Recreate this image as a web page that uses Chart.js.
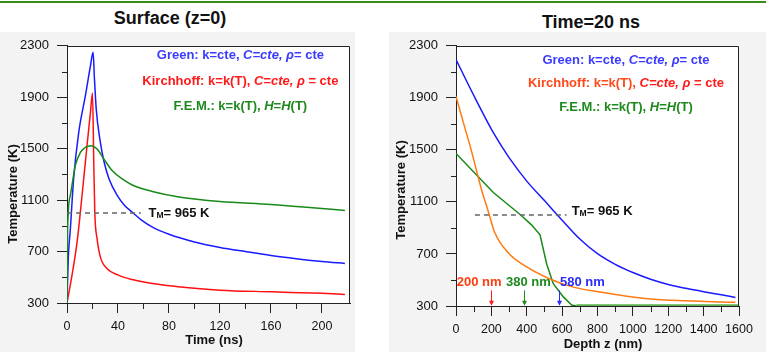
<!DOCTYPE html>
<html><head><meta charset="utf-8">
<script src="https://cdn.jsdelivr.net/npm/chart.js@4/dist/chart.umd.min.js"></script>
<style>
html,body{margin:0;padding:0;background:#fff;width:766px;height:352px;overflow:hidden;font-family:"Liberation Sans",Arial,sans-serif;}
#topline{position:absolute;left:0;top:1px;width:766px;height:2px;background:#3c8c1c;}
.panel{position:absolute;background:#f3f3f3;}
.title{position:absolute;font-weight:bold;font-size:18px;line-height:18px;color:#111;white-space:nowrap;transform:translateX(-50%);}
canvas{position:absolute;}
</style></head><body>
<div id="topline"></div>
<div class="panel" style="left:0;top:32px;width:355px;height:320px"></div>
<div class="panel" style="left:389px;top:32px;width:377px;height:320px"></div>
<div class="title" style="left:170px;top:9px">Surface (z=0)</div>
<div class="title" style="left:591px;top:13px">Time=20 ns</div>
<canvas id="c1" width="360" height="322" style="left:0;top:30px"></canvas>
<canvas id="c2" width="383" height="322" style="left:383px;top:30px"></canvas>
<script>
// ---------- DATA ----------
// Left chart: surface temperature vs time (ns)
const leftGreenTime = [0, 1, 2.6, 5.2, 9.2, 14.4, 18.4, 20.5, 21.5, 23, 26, 29, 33, 39.4, 45, 51.2, 59, 67, 80, 100, 120, 140, 160, 180, 200, 218];
const leftGreenTemp = [300, 650, 870, 1265, 1627, 1911, 2144, 2250, 2050, 1800, 1560, 1400, 1265, 1136, 1060, 1006, 940, 890, 835, 775, 732, 700, 670, 645, 623, 608];
const leftKirchTime = [0, 3.9, 7.9, 11.8, 15.7, 18.4, 20, 21, 21.8, 23.6, 26.2, 31.5, 40.7, 51.2, 67, 89, 120, 160, 200, 218];
const leftKirchTemp = [300, 515, 773, 1136, 1523, 1782, 1932, 1394, 1006, 800, 657, 567, 515, 482, 451, 424, 400, 387, 375, 367];
const leftFemTime = [0, 0.5, 2.6, 6.5, 10.5, 14.4, 18.9, 23.6, 28.9, 35.4, 43.3, 51.2, 67, 89, 120, 160, 200, 218];
const leftFemTemp = [300, 880, 1136, 1368, 1471, 1510, 1523, 1497, 1420, 1330, 1265, 1218, 1167, 1122, 1089, 1066, 1035, 1019];

// Right chart: temperature vs depth (nm) at t = 20 ns
const rightGreenDepth = [0, 100, 200, 266, 300, 400, 500, 600, 700, 800, 900, 1000, 1100, 1200, 1300, 1400, 1500, 1580];
const rightGreenTemp = [2195, 1920, 1660, 1511, 1440, 1260, 1110, 960, 815, 702, 620, 557, 506, 466, 436, 410, 386, 366];
const rightKirchDepth = [0, 39, 86, 124, 145, 172, 183, 219, 296, 400, 531, 663, 814, 965, 1135, 1300, 1450, 1580];
const rightKirchTemp = [1911, 1723, 1498, 1298, 1190, 1072, 1025, 865, 708, 601, 508, 445, 408, 375, 350, 340, 333, 328];
const rightFemDepth = [0, 211, 266, 371, 428, 475, 513, 550, 607, 654, 680, 1600];
const rightFemTemp = [1473, 1172, 1111, 994, 922, 847, 621, 471, 370, 307, 300, 300];

const meltLevel = 1000;              // level at which the T_M line is drawn
const leftMeltSpan = [0, 58];        // ns
const rightMeltSpan = [107, 625];    // nm
const meltLabel = '= 965 K';

const leftTimeTicks = [0, 20, 40, 60, 80, 100, 120, 140, 160, 180, 200];
const leftTimeLabels = [0, 40, 80, 120, 160, 200];
const tempTicks = [300, 500, 700, 900, 1100, 1300, 1500, 1700, 1900, 2100, 2300];
const tempLabels = [300, 700, 1100, 1500, 1900, 2300];
const depthTicks = [0, 100, 200, 300, 400, 500, 600, 700, 800, 900, 1000, 1100, 1200, 1300, 1400, 1500, 1600];
const depthLabels = [0, 200, 400, 600, 800, 1000, 1200, 1400, 1600];

const depthMarkers = [200, 385, 580];
const depthMarkerLabels = ['200 nm', '380 nm', '580 nm'];
const depthMarkerColors = ['#ff3d10', '#1e8a1e', '#2a2aff'];
const depthMarkerArrowColors = ['#ff1a1a', '#1e8a1e', '#2a2aff'];

// ---------- HELPERS ----------
const FONT = '"Liberation Sans", Arial, sans-serif';
const zip = (xs, ys) => xs.map((x, i) => ({x: x, y: ys[i]}));

function richText(ctx, parts, x, y, align) {
  let total = 0;
  parts.forEach(p => {
    ctx.font = (p.i ? 'italic ' : '') + 'bold ' + (p.s || 13) + 'px ' + FONT;
    p.w = ctx.measureText(p.t).width; total += p.w;
  });
  let cx = align === 'center' ? x - total / 2 : x;
  ctx.textAlign = 'left'; ctx.textBaseline = 'middle';
  parts.forEach(p => {
    ctx.font = (p.i ? 'italic ' : '') + 'bold ' + (p.s || 13) + 'px ' + FONT;
    ctx.fillStyle = p.c;
    ctx.fillText(p.t, cx, y + (p.dy || 0));
    cx += p.w;
  });
}

const panelPlugin = {
  id: 'panel',
  beforeDraw(chart) {
    const a = chart.chartArea, ctx = chart.ctx;
    ctx.save(); ctx.fillStyle = '#ffffff';
    ctx.fillRect(a.left, a.top, a.right - a.left, a.bottom - a.top);
    ctx.restore();
  },
  afterDraw(chart) {
    const o = chart.options.plugins.panel;
    const a = chart.chartArea, ctx = chart.ctx;
    const xs = chart.scales.x, ys = chart.scales.y;
    ctx.save();
    ctx.strokeStyle = '#222'; ctx.lineWidth = 1;
    // minor ticks
    ctx.beginPath();
    o.xTicks.forEach(v => { if (!o.xLabels.includes(v)) { const px = Math.round(xs.getPixelForValue(v)) + 0.5; ctx.moveTo(px, a.bottom); ctx.lineTo(px, a.bottom + 6); } });
    o.yTicks.forEach(v => { if (!o.yLabels.includes(v)) { const py = Math.round(ys.getPixelForValue(v)) + 0.5; ctx.moveTo(a.left - 5, py); ctx.lineTo(a.left, py); } });
    // top & right frame
    const t = Math.round(a.top) + 0.5, r = Math.round(a.right) - 0.5;
    ctx.moveTo(a.left, t); ctx.lineTo(r, t); ctx.lineTo(r, a.bottom);
    ctx.stroke();
    // axis titles
    ctx.fillStyle = '#111'; ctx.font = 'bold 13px ' + FONT;
    ctx.textAlign = 'center'; ctx.textBaseline = 'alphabetic';
    ctx.fillText(o.xTitle, o.xTitlePos[0], o.xTitlePos[1]);
    ctx.save(); ctx.translate(o.yTitlePos[0], o.yTitlePos[1]); ctx.rotate(-Math.PI / 2);
    ctx.textBaseline = 'middle'; ctx.fillText(o.yTitle, 0, 0); ctx.restore();
    // legend text
    o.legend.forEach(l => richText(ctx, l.parts, xs.getPixelForValue(l.x), ys.getPixelForValue(l.y), 'center'));
    // melt label
    richText(ctx, [{t: 'T', c: '#111'}, {t: 'M', s: 8.5, dy: 3, c: '#111'}, {t: meltLabel, c: '#111'}],
      xs.getPixelForValue(o.melt.x), ys.getPixelForValue(o.melt.y), 'left');
    // markers
    (o.markers || []).forEach(m => {
      const px = Math.round(xs.getPixelForValue(m.x)) + 0.5;
      const y0 = ys.getPixelForValue(m.top), y1 = ys.getPixelForValue(m.tip);
      ctx.strokeStyle = m.ac; ctx.fillStyle = m.ac; ctx.lineWidth = 1;
      ctx.beginPath(); ctx.moveTo(px, y0); ctx.lineTo(px, y1 - 4); ctx.stroke();
      ctx.beginPath(); ctx.moveTo(px - 2.5, y1 - 5); ctx.lineTo(px + 2.5, y1 - 5); ctx.lineTo(px, y1); ctx.closePath(); ctx.fill();
      richText(ctx, [{t: m.label, c: m.c}], xs.getPixelForValue(m.lx), ys.getPixelForValue(m.ly), 'left');
    });
    ctx.restore();
  }
};

function axis(ticks, labels, min, max, size, fontSize, pad, horizontal) {
  return {
    type: 'linear', min: min, max: max,
    afterBuildTicks: s => { s.ticks = ticks.map(v => ({value: v})); },
    afterFit: s => { if (horizontal) s.height = size; else s.width = size; },
    ticks: {
      autoSkip: false, maxRotation: 0, padding: pad, color: '#111',
      font: {family: FONT, size: fontSize},
      callback: v => labels.includes(v) ? String(v) : ''
    },
    grid: {
      display: true, drawOnChartArea: false, drawTicks: true, tickLength: 10, lineWidth: 1,
      color: c => (c.tick && labels.includes(c.tick.value)) ? '#222' : 'rgba(0,0,0,0)',
      tickColor: c => (c.tick && labels.includes(c.tick.value)) ? '#222' : 'rgba(0,0,0,0)'
    },
    border: {display: true, color: '#222', width: 1}
  };
}

function line(data, color, extra) {
  return Object.assign({data: data, borderColor: color, borderWidth: 1.5, pointRadius: 0, fill: false,
    cubicInterpolationMode: 'monotone'}, extra || {});
}

const legendParts = (kirchColor1) => ({
  green: [{t: 'Green: k=cte, ', c: '#3b3bff'}, {t: 'C=cte, ', i: true, c: '#3b3bff'}, {t: 'ρ', i: true, c: '#3b3bff'}, {t: '= cte', c: '#3b3bff'}],
  kirch: [{t: 'Kirchhoff: k=k(T), ', c: kirchColor1}, {t: 'C=cte, ', i: true, c: '#ff1a1a'}, {t: 'ρ', i: true, c: '#ff1a1a'}, {t: ' = cte', c: '#ff1a1a'}],
  fem: [{t: 'F.E.M.: k=k(T), ', c: '#1e8a1e'}, {t: 'H', i: true, c: '#1e8a1e'}, {t: '=', c: '#1e8a1e'}, {t: 'H', i: true, c: '#1e8a1e'}, {t: '(T)', c: '#1e8a1e'}]
});

// ---------- LEFT CHART ----------
const lp = legendParts('#ff1a1a');
new Chart(document.getElementById('c1'), {
  type: 'scatter',
  data: {datasets: [
    line(zip(leftMeltSpan, [meltLevel, meltLevel]), '#666', {borderDash: [5, 4], cubicInterpolationMode: 'default', showLine: true}),
    line(zip(leftFemTime, leftFemTemp), '#188a18', {showLine: true}),
    line(zip(leftGreenTime, leftGreenTemp), '#1a1aff', {showLine: true}),
    line(zip(leftKirchTime, leftKirchTemp), '#ff1010', {showLine: true})
  ]},
  options: {
    responsive: false, animation: false, devicePixelRatio: 1,
    layout: {padding: {top: 15, right: 10, left: 0, bottom: 0}},
    scales: {
      x: axis(leftTimeTicks, leftTimeLabels, 0, 222, 49, 12.5, 6, true),
      y: axis(tempTicks, tempLabels, 300, 2300, 67, 13, 8, false)
    },
    plugins: {
      legend: {display: false}, tooltip: {enabled: false},
      panel: {
        xTicks: leftTimeTicks, xLabels: leftTimeLabels, yTicks: tempTicks, yLabels: tempLabels,
        xTitle: 'Time (ns)', xTitlePos: [214, 314], yTitle: 'Temperature (K)', yTitlePos: [13, 164],
        legend: [{x: 136, y: 2222, parts: lp.green}, {x: 136, y: 2024, parts: lp.kirch}, {x: 136, y: 1826, parts: lp.fem}],
        melt: {x: 64, y: 1000}
      }
    }
  },
  plugins: [panelPlugin]
});

// ---------- RIGHT CHART ----------
const rp = legendParts('#ff4a1a');
new Chart(document.getElementById('c2'), {
  type: 'scatter',
  data: {datasets: [
    line(zip(rightMeltSpan, [meltLevel, meltLevel]), '#666', {borderDash: [5, 4], cubicInterpolationMode: 'default', showLine: true}),
    line(zip(rightGreenDepth, rightGreenTemp), '#1a1aff', {showLine: true}),
    line(zip(rightKirchDepth, rightKirchTemp), '#ff7a10', {showLine: true}),
    line(zip(rightFemDepth, rightFemTemp), '#188a18', {showLine: true, cubicInterpolationMode: 'default',
      segment: {
        borderColor: c => (c.p0.parsed.y <= 302 && c.p1.parsed.y <= 302) ? '#5cb04e' : undefined,
        borderWidth: c => (c.p0.parsed.y <= 302 && c.p1.parsed.y <= 302) ? 3.5 : undefined
      }})
  ]},
  options: {
    responsive: false, animation: false, devicePixelRatio: 1,
    layout: {padding: {top: 10, right: 27, left: 0, bottom: 0}},
    scales: {
      x: axis(depthTicks, depthLabels, 0, 1600, 46, 12.5, 6, true),
      y: axis(tempTicks, tempLabels, 300, 2300, 73, 13, 8, false)
    },
    plugins: {
      legend: {display: false}, tooltip: {enabled: false},
      panel: {
        xTicks: depthTicks, xLabels: depthLabels, yTicks: tempTicks, yLabels: tempLabels,
        xTitle: 'Depth z (nm)', xTitlePos: [220, 318], yTitle: 'Temperature (K)', yTitlePos: [18, 160],
        legend: [{x: 961, y: 2187, parts: rp.green}, {x: 961, y: 2007, parts: rp.kirch}, {x: 961, y: 1826, parts: rp.fem}],
        melt: {x: 654, y: 1030},
        markers: depthMarkers.map((d, i) => ({x: d, top: 420, tip: 302, ac: depthMarkerArrowColors[i],
          label: depthMarkerLabels[i], c: depthMarkerColors[i], lx: [4, 283, 588][i], ly: 483}))
      }
    }
  },
  plugins: [panelPlugin]
});
</script>
</body></html>
